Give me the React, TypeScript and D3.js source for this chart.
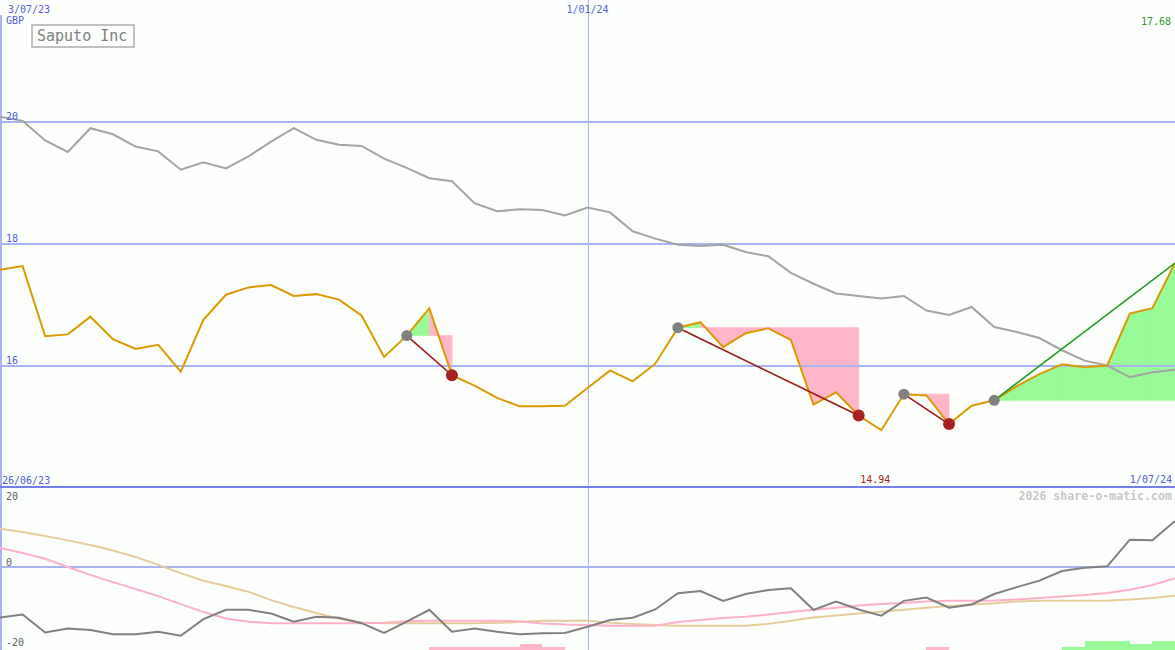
import React from "react";
import * as d3 from "d3";

// ---------- data (weekly, 3/07/23 .. 1/07/24) ----------
const priceValues = [17.57, 17.63, 16.48, 16.51, 16.80, 16.43, 16.27, 16.34, 15.90, 16.75, 17.16, 17.28, 17.32, 17.14, 17.17, 17.08, 16.82, 16.14, 16.49, 16.94, 15.84, 15.67, 15.47, 15.33, 15.33, 15.34, 15.63, 15.92, 15.74, 16.03, 16.62, 16.71, 16.30, 16.53, 16.61, 16.42, 15.36, 15.56, 15.18, 14.94, 15.53, 15.51, 15.04, 15.34, 15.43, 15.66, 15.86, 16.02, 15.97, 16.00, 16.85, 16.94, 17.68];
const avgValues = [20.08, 20.01, 19.69, 19.50, 19.89, 19.79, 19.59, 19.51, 19.21, 19.33, 19.23, 19.43, 19.67, 19.89, 19.70, 19.62, 19.60, 19.39, 19.24, 19.07, 19.02, 18.66, 18.53, 18.56, 18.55, 18.46, 18.59, 18.51, 18.20, 18.08, 17.98, 17.96, 17.98, 17.86, 17.79, 17.52, 17.34, 17.18, 17.14, 17.10, 17.14, 16.90, 16.83, 16.96, 16.63, 16.55, 16.45, 16.25, 16.08, 16.00, 15.81, 15.89, 15.93];
const momentumValues = [-14.0, -13.2, -18.2, -17.1, -17.5, -18.7, -18.7, -18.0, -19.1, -14.5, -11.9, -11.9, -12.9, -15.2, -13.8, -14.1, -15.6, -18.3, -15.2, -11.9, -18.0, -17.1, -18.0, -18.7, -18.4, -18.3, -16.6, -14.7, -14.1, -11.8, -7.3, -6.7, -9.4, -7.5, -6.4, -5.9, -11.9, -9.6, -11.8, -13.5, -9.4, -8.5, -11.3, -10.4, -7.5, -5.6, -3.8, -1.1, -0.2, 0.2, 7.6, 7.4, 12.8];
const fastAvgValues = [5.3, 3.9, 2.3, 0, -2.2, -4.2, -6.1, -8.1, -10.3, -12.5, -14.3, -15.2, -15.6, -15.6, -15.6, -15.6, -15.6, -15.5, -15.1, -14.9, -14.9, -14.9, -14.9, -15.1, -15.7, -16.0, -16.1, -16.3, -16.3, -16.3, -15.3, -14.7, -14.2, -13.8, -13.2, -12.5, -11.9, -11.3, -10.7, -10.3, -10.0, -9.6, -9.4, -9.4, -9.3, -9.0, -8.6, -8.2, -7.8, -7.2, -6.3, -5.0, -3.1];
const slowAvgValues = [10.6, 9.7, 8.6, 7.4, 6.1, 4.6, 2.8, 0.6, -1.7, -3.8, -5.3, -6.9, -9.2, -11.1, -12.8, -14.4, -15.4, -15.6, -15.6, -15.6, -15.6, -15.6, -15.5, -15.3, -14.9, -14.9, -14.9, -15.5, -15.8, -16.1, -16.3, -16.3, -16.3, -16.3, -15.8, -14.9, -14.0, -13.5, -12.9, -12.4, -11.9, -11.3, -10.8, -10.4, -10.1, -9.6, -9.4, -9.4, -9.4, -9.4, -9.0, -8.6, -8.0];
// histogram per weekly interval (k -> k+1)
const barValues = [0, 0, 0, 0, 0, 0, 0, 0, 0, 0, 0, 0, 0, 0, 0, 0, 0, 0, 0, -1, -1, -1, -1, -2, -1, 0, 0, 0, 0, 0, 0, 0, 0, 0, 0, 0, 0, 0, 0, 0, 0, -1, 0, 0, 0, 0, 0, 1, 3, 3, 2, 3];
// trades: entry index, exit index (null = still open)
const tradeEntries = [18, 30, 40, 44];
const tradeExits = [20, 38, 42, null];

const priceTicks = [20, 18, 16];
const lowerTicks = [20, 0, -20];
const title = "Saputo Inc";
const currency = "GBP";
const firstDateLabel = "3/07/23";
const startLabel = "26/06/23";
const endLabel = "1/07/24";
const midIndex = 26;
const midLabel = "1/01/24";
const lastLabel = "17.68";
const minLabel = "14.94";
const minIndex = 39;
const credit = "2026 share-o-matic.com";

const W = 1175;
const H = 650;
const FONT = "'DejaVu Sans Mono', monospace";
const GRID = "#a8b4f0";

export default function App() {
  const n = priceValues.length;
  const x = d3.scaleLinear().domain([0, n - 1]).range([0, W]);
  const y = d3.scaleLinear().domain([14, 20]).range([487.5, 121.5]);
  const yl = d3.scaleLinear().domain([-20, 20]).range([639, 495]);
  const yb = d3.scaleLinear().domain([0, 3]).range([650, 641]);

  const lineTop = d3.line<number>().x((_, i) => x(i)).y((d) => y(d));
  const lineLow = d3.line<number>().x((_, i) => x(i)).y((d) => yl(d));

  const fills: { d: string; c: string }[] = [];
  tradeEntries.forEach((e, t) => {
    const end = tradeExits[t] == null ? n - 1 : (tradeExits[t] as number);
    const ev = priceValues[e];
    for (let k = e; k < end; k++) {
      const pts: [number, number][] = [
        [x(k), y(ev)],
        [x(k), y(priceValues[k])],
        [x(k + 1), y(priceValues[k + 1])],
        [x(k + 1), y(ev)],
      ];
      fills.push({
        d: "M" + pts.map((p) => p.join(",")).join("L") + "Z",
        c: priceValues[k + 1] > ev ? "#98fb98" : "#ffb6c8",
      });
    }
  });

  React.useEffect(() => {
    document.body.style.margin = "0";
  }, []);

  const midX = Math.round(x(midIndex)) + 0.5;

  return (
    <svg width={W} height={H} style={{ position: "absolute", left: 0, top: 0, display: "block" }} fontFamily={FONT}>
      <rect x={0} y={0} width={W} height={H} fill="#fcfffc" />
      {fills.map((f, i) => (
        <path key={"f" + i} d={f.d} fill={f.c} stroke={f.c} strokeWidth={0.8} />
      ))}
      {priceTicks.map((t) => (
        <line key={"g" + t} x1={0} x2={W} y1={y(t)} y2={y(t)} stroke={GRID} strokeWidth={2} shapeRendering="crispEdges" />
      ))}
      <line x1={midX} x2={midX} y1={0} y2={H} stroke={GRID} strokeWidth={1} shapeRendering="crispEdges" />
      <rect x={0} y={15} width={2} height={H - 15} fill={GRID} />
      <line x1={0} x2={W} y1={yl(0)} y2={yl(0)} stroke={GRID} strokeWidth={2} shapeRendering="crispEdges" />
      <line x1={0} x2={W} y1={487} y2={487} stroke="#7080e8" strokeWidth={2} shapeRendering="crispEdges" />

      <path d={lineTop(avgValues) || ""} fill="none" stroke="#a4a4a4" strokeWidth={2} />
      <path d={lineTop(priceValues) || ""} fill="none" stroke="#dd9900" strokeWidth={2} />

      {tradeEntries.map((e, t) => {
        const ex = tradeExits[t];
        const end = ex == null ? n - 1 : ex;
        return (
          <line key={"t" + t} x1={x(e)} y1={y(priceValues[e])} x2={x(end)} y2={y(priceValues[end])}
            stroke={ex == null ? "#229922" : "#a01818"} strokeWidth={1.6} />
        );
      })}
      {tradeEntries.map((e, t) => (
        <circle key={"e" + t} cx={x(e)} cy={y(priceValues[e])} r={5.5} fill="#808080" />
      ))}
      {tradeExits.map((e, t) =>
        e == null ? null : <circle key={"x" + t} cx={x(e)} cy={y(priceValues[e])} r={6} fill="#a82020" />
      )}

      {barValues.map((v, k) =>
        v === 0 ? null : (
          <rect key={"b" + k} x={x(k)} width={x(k + 1) - x(k)} y={yb(Math.abs(v))} height={650 - yb(Math.abs(v))}
            fill={v > 0 ? "#98fb98" : "#ffb6c8"} shapeRendering="crispEdges" />
        )
      )}
      <path d={lineLow(slowAvgValues) || ""} fill="none" stroke="#e6cc99" strokeWidth={2} />
      <path d={lineLow(fastAvgValues) || ""} fill="none" stroke="#ffb0c8" strokeWidth={2} />
      <path d={lineLow(momentumValues) || ""} fill="none" stroke="#808080" strokeWidth={2} />

      {/* title */}
      <rect x={32} y={25} width={102} height={22} fill="#fcfffc" stroke="#c0c0c0" strokeWidth={2} />
      <text x={37} y={41} fontSize={15} fill="#808080">{title}</text>

      <text x={8} y={12.5} fontSize={10} fill="#5060e0">{firstDateLabel}</text>
      <text x={6} y={24} fontSize={10} fill="#5060e0">{currency}</text>
      <text x={x(midIndex)} y={12.5} fontSize={10} fill="#5060e0" textAnchor="middle">{midLabel}</text>
      <text x={1171} y={25} fontSize={10} fill="#2a9a2a" textAnchor="end">{lastLabel}</text>
      {priceTicks.map((t) => (
        <text key={"pt" + t} x={6} y={y(t) - 1.5} fontSize={10} fill="#5060e0">{t}</text>
      ))}
      <text x={2} y={483.5} fontSize={10} fill="#5060e0">{startLabel}</text>
      <text x={1172} y={483} fontSize={10} fill="#5060e0" textAnchor="end">{endLabel}</text>
      <text x={x(minIndex) - 6} y={483} fontSize={10} fill="#aa2222" textAnchor="middle">{minLabel}</text>
      <text x={1172} y={500} fontSize={11.6} fontWeight="bold" fill="#c8c8c8" textAnchor="end">{credit}</text>
      {lowerTicks.map((t) => (
        <text key={"lt" + t} x={6} y={t === 20 ? 500 : t === 0 ? 565.5 : 646} fontSize={10} fill="#606060">{t}</text>
      ))}
    </svg>
  );
}
